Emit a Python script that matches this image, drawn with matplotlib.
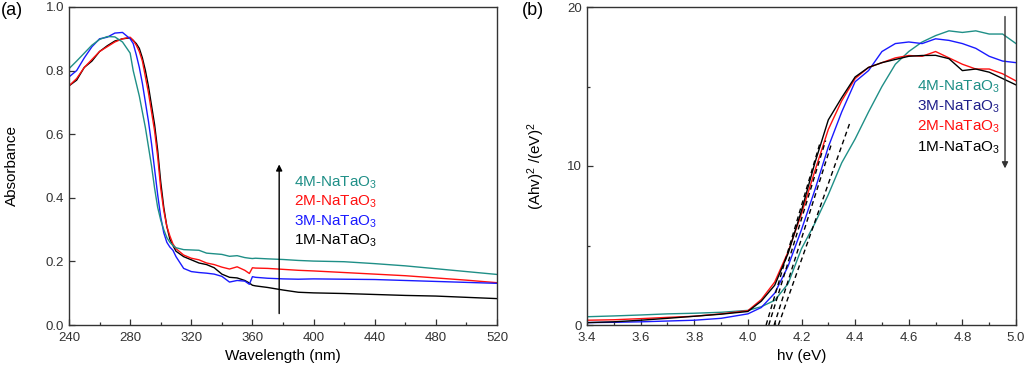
import numpy as np
import matplotlib
matplotlib.use("Agg")
import matplotlib.pyplot as plt
from matplotlib.ticker import MultipleLocator

plt.rcParams['font.family'] = ['Liberation Sans', 'DejaVu Sans']
plt.rcParams['mathtext.fontset'] = 'custom'
plt.rcParams['mathtext.rm'] = 'Liberation Sans'
plt.rcParams['mathtext.it'] = 'Liberation Sans'

teal = '#1f8f87'
red = '#ff1010'
blue = '#1a1aff'
navy = '#20208a'

# ---- panel (a): absorbance vs wavelength
wl = [240, 245, 250, 255, 260, 265, 270, 275, 280, 282, 284, 286, 288, 290, 292, 294,
      296, 298, 300, 302, 304, 306, 308, 310, 315, 320, 325, 330, 335, 340, 345, 350,
      355, 358, 360, 362, 370, 380, 390, 400, 420, 440, 460, 480, 500, 520]

abs_4m = [.806, .83, .855, .88, .898, .907, .906, .89, .855, .80, .76, .72, .67, .62, .56, .50,
          .43, .37, .33, .30, .275, .26, .25, .243, .237, .236, .235, .226, .224, .222, .216, .218,
          .212, .21, .209, .21, .208, .206, .203, .201, .199, .193, .186, .177, .168, .159]
abs_2m = [.752, .775, .81, .835, .86, .875, .89, .90, .905, .895, .88, .86, .83, .78, .73, .67,
          .61, .53, .43, .36, .31, .28, .255, .24, .22, .21, .205, .195, .19, .182, .176, .183,
          .172, .162, .18, .179, .178, .175, .172, .17, .165, .16, .155, .148, .141, .133]
abs_3m = [.78, .80, .84, .875, .90, .905, .918, .92, .90, .885, .85, .81, .76, .70, .64, .57,
          .49, .41, .34, .29, .26, .245, .235, .215, .178, .168, .165, .163, .16, .153, .135, .14,
          .138, .128, .152, .15, .147, .145, .144, .145, .144, .143, .14, .137, .134, .131]
abs_1m = [.752, .77, .81, .83, .86, .878, .893, .90, .903, .895, .885, .87, .84, .80, .75, .69,
          .63, .55, .45, .37, .31, .27, .25, .232, .215, .205, .195, .19, .18, .16, .15, .148,
          .14, .132, .125, .123, .118, .11, .103, .101, .099, .096, .093, .091, .087, .083]

# ---- panel (b): Tauc plot
ev = [3.4, 3.5, 3.6, 3.7, 3.8, 3.9, 4.0, 4.05, 4.1, 4.15, 4.2, 4.25, 4.3, 4.35, 4.4, 4.45,
      4.5, 4.55, 4.6, 4.65, 4.7, 4.75, 4.8, 4.85, 4.9, 4.95, 5.0]

tauc_4m = [.52, .57, .63, .70, .74, .80, .92, 1.15, 1.55, 2.6, 4.8, 6.4, 8.2, 10.2, 11.7, 13.4,
           15.0, 16.4, 17.2, 17.8, 18.2, 18.5, 18.4, 18.5, 18.3, 18.3, 17.7]
tauc_3m = [.15, .17, .20, .25, .30, .42, .70, 1.1, 2.0, 3.7, 6.0, 8.5, 11.2, 13.4, 15.3, 16.0,
           17.2, 17.7, 17.8, 17.7, 18.0, 17.9, 17.7, 17.4, 16.9, 16.6, 16.5]
tauc_2m = [.30, .33, .40, .48, .55, .70, .90, 1.6, 2.7, 4.6, 7.0, 9.7, 12.3, 14.1, 15.5, 16.2,
           16.5, 16.8, 16.95, 16.9, 17.2, 16.8, 16.4, 16.1, 16.1, 15.8, 15.35]
tauc_1m = [.15, .20, .30, .42, .55, .68, .85, 1.5, 2.5, 4.5, 7.2, 10.2, 12.9, 14.3, 15.6, 16.2,
           16.5, 16.7, 16.9, 16.95, 16.96, 16.75, 16.0, 16.1, 15.9, 15.5, 15.1]

# tangent lines (start x, end x, end y); they start at y=0
tangent_x0 = [4.068, 4.078, 4.098, 4.114]
tangent_x1 = [4.27, 4.29, 4.31, 4.38]
tangent_y1 = [11.5, 11.6, 11.3, 12.7]

labels_a = ['4M-NaTaO$_3$', '2M-NaTaO$_3$', '3M-NaTaO$_3$', '1M-NaTaO$_3$']
colors_a = [teal, red, blue, 'black']
labels_b = ['4M-NaTaO$_3$', '3M-NaTaO$_3$', '2M-NaTaO$_3$', '1M-NaTaO$_3$']
colors_b = [teal, navy, red, 'black']

fig = plt.figure(figsize=(10.24, 3.66), dpi=100)
ax1 = fig.add_axes([69/1024, 41/366, 428/1024, 318/366])
ax2 = fig.add_axes([587/1024, 41/366, 429/1024, 318/366])

lw = 1.0
ax1.plot(wl, abs_1m, color='black', lw=lw)
ax1.plot(wl, abs_2m, color=red, lw=lw)
ax1.plot(wl, abs_3m, color=blue, lw=lw)
ax1.plot(wl, abs_4m, color=teal, lw=lw)

ax2.plot(ev, tauc_4m, color=teal, lw=lw)
ax2.plot(ev, tauc_3m, color=blue, lw=lw)
ax2.plot(ev, tauc_2m, color=red, lw=lw)
ax2.plot(ev, tauc_1m, color='black', lw=lw)
for x0, x1, y1 in zip(tangent_x0, tangent_x1, tangent_y1):
    ax2.plot([x0, x1], [0, y1], color='black', lw=1.0, ls=(0, (3.5, 2.5)))

ax1.set_xlim(240, 520)
ax1.set_ylim(0, 1.0)
ax1.xaxis.set_major_locator(MultipleLocator(40))
ax1.xaxis.set_minor_locator(MultipleLocator(20))
ax1.yaxis.set_major_locator(MultipleLocator(0.2))
ax1.set_xlabel('Wavelength (nm)', fontsize=11)
ax1.set_ylabel('Absorbance', fontsize=11)
ax1.yaxis.set_label_coords(-0.118, 0.5)
ax1.xaxis.set_label_coords(0.5, -0.075)

ax2.set_xlim(3.4, 5.0)
ax2.set_ylim(0, 20)
ax2.xaxis.set_major_locator(MultipleLocator(0.2))
ax2.xaxis.set_minor_locator(MultipleLocator(0.1))
ax2.yaxis.set_major_locator(MultipleLocator(10))
ax2.yaxis.set_minor_locator(MultipleLocator(5))
ax2.set_xlabel('hv (eV)', fontsize=11)
ax2.set_ylabel('(Ahv)$^2$ /(eV)$^2$', fontsize=11)
ax2.yaxis.set_label_coords(-0.093, 0.5)
ax2.xaxis.set_label_coords(0.5, -0.075)

for ax in (ax1, ax2):
    for s in ax.spines.values():
        s.set_color('#333333')
        s.set_linewidth(1.0)
    ax.tick_params(which='both', direction='in', top=False, right=False,
                   labelsize=9.5, colors='#333333', width=0.9)
    ax.tick_params(which='major', length=4)
    ax.tick_params(which='minor', length=2.5)
    ax.tick_params(axis='x', which='both', pad=5)

ax1.annotate('', xy=(377.5, 0.505), xytext=(377.5, 0.036),
             arrowprops=dict(arrowstyle='-|>', color='black', lw=1.0,
                             mutation_scale=9, shrinkA=0, shrinkB=0))
for i, (t, c) in enumerate(zip(labels_a, colors_a)):
    ax1.text(387, 0.447 - i*0.061, t, color=c, fontsize=11, va='center')

ax2.annotate('', xy=(4.959, 9.85), xytext=(4.959, 19.4),
             arrowprops=dict(arrowstyle='-|>', color='#333333', lw=1.0,
                             mutation_scale=9, shrinkA=0, shrinkB=0))
for i, (t, c) in enumerate(zip(labels_b, colors_b)):
    ax2.text(4.631, 15.0 - i*1.28, t, color=c, fontsize=11, va='center')

fig.text(0.001, 0.995, '(a)', fontsize=13, va='top', ha='left')
fig.text(0.510, 0.995, '(b)', fontsize=13, va='top', ha='left')

fig.savefig('out.png', dpi=100)
